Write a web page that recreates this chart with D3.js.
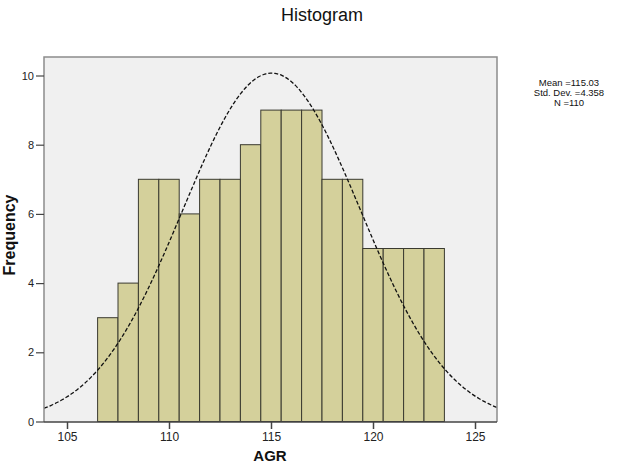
<!DOCTYPE html>
<html>
<head>
<meta charset="UTF-8">
<title>Histogram</title>
<script src="https://d3js.org/d3.v7.min.js"></script>
<style>
    body { margin: 0; background: #fff; }
    svg { display: block; font-family: "Liberation Sans", Arial, sans-serif; }
</style>
</head>
<body>
<svg id="chart" width="617" height="466"></svg>
<script>
    // bins of width 1, centred on integer values of AGR
    const binStarts = [106.5, 107.5, 108.5, 109.5, 110.5, 111.5, 112.5, 113.5, 114.5,
                       115.5, 116.5, 117.5, 118.5, 119.5, 120.5, 121.5, 122.5];
    const counts = [3, 4, 7, 7, 6, 7, 7, 8, 9, 9, 9, 7, 7, 5, 5, 5, 5];
    const xTicks = [105, 110, 115, 120, 125];
    const yTicks = [0, 2, 4, 6, 8, 10];
    const stats = ["Mean =115.03", "Std. Dev. =4.358", "N =110"];
    const mean = 115.03, sd = 4.358, n = 110, binWidth = 1;

    const svg = d3.select("#chart");
    const plot = { left: 44, right: 497, top: 57, bottom: 422 };

    const x = d3.scaleLinear().domain([105, 125]).range([67, 475]);
    const y = d3.scaleLinear().domain([0, 10]).range([421.5, 75.5]);

    // plot background
    svg.append("rect")
        .attr("x", plot.left).attr("y", plot.top)
        .attr("width", plot.right - plot.left).attr("height", plot.bottom - plot.top)
        .attr("fill", "#f0f0f0");

    // bars
    svg.selectAll(".bar")
        .data(binStarts.map((s, i) => ({ s: s, c: counts[i] })))
        .enter().append("rect")
        .attr("class", "bar")
        .attr("x", d => x(d.s))
        .attr("y", d => y(d.c))
        .attr("width", d => x(d.s + binWidth) - x(d.s))
        .attr("height", d => y(0) - y(d.c))
        .attr("fill", "#d4d09b")
        .attr("stroke", "#3a3a30")
        .attr("stroke-width", 1);

    // normal curve
    const x0 = x.invert(plot.left), x1 = x.invert(plot.right);
    const curve = d3.range(0, 201).map(i => {
        const v = x0 + (x1 - x0) * i / 200;
        const z = (v - mean) / sd;
        return [v, n * binWidth / (sd * Math.sqrt(2 * Math.PI)) * Math.exp(-z * z / 2)];
    });
    svg.append("path")
        .datum(curve)
        .attr("d", d3.line().x(d => x(d[0])).y(d => y(d[1])).curve(d3.curveBasis))
        .attr("fill", "none")
        .attr("stroke", "#111")
        .attr("stroke-width", 1.3)
        .attr("stroke-dasharray", "4,2");

    // frame
    svg.append("path")
        .attr("d", `M${plot.left},${plot.bottom}V${plot.top}H${plot.right}V${plot.bottom}`)
        .attr("fill", "none")
        .attr("stroke", "#8c8c8c")
        .attr("stroke-width", 1.5);

    // axes
    const xAxis = svg.append("g")
        .attr("transform", `translate(0,${plot.bottom})`)
        .call(d3.axisBottom(x).tickValues(xTicks).tickSize(7).tickPadding(3).tickSizeOuter(0));
    xAxis.select(".domain").attr("d", `M${plot.left},0H${plot.right}`).attr("stroke", "#444").attr("stroke-width", 1.5);
    xAxis.selectAll(".tick line").attr("stroke", "#444").attr("stroke-width", 1.5);
    xAxis.selectAll("text").attr("font-size", 12).attr("fill", "#222").attr("font-family", "Liberation Sans, Arial, sans-serif");

    const yAxis = svg.append("g")
        .attr("transform", `translate(${plot.left},0)`)
        .call(d3.axisLeft(y).tickValues(yTicks).tickSize(8).tickPadding(2).tickSizeOuter(0));
    yAxis.select(".domain").remove();
    yAxis.selectAll(".tick line").attr("stroke", "#444").attr("stroke-width", 1.2);
    yAxis.selectAll("text").attr("font-size", 11).attr("fill", "#222").attr("font-family", "Liberation Sans, Arial, sans-serif");

    // titles
    svg.append("text")
        .attr("x", 322).attr("y", 21)
        .attr("text-anchor", "middle")
        .attr("font-size", 18)
        .attr("fill", "#111")
        .text("Histogram");

    svg.append("text")
        .attr("x", 270).attr("y", 461)
        .attr("text-anchor", "middle")
        .attr("font-size", 15)
        .attr("font-weight", "bold")
        .attr("fill", "#111")
        .text("AGR");

    svg.append("text")
        .attr("transform", "translate(15,235) rotate(-90)")
        .attr("text-anchor", "middle")
        .attr("font-size", 16)
        .attr("font-weight", "bold")
        .attr("fill", "#111")
        .text("Frequency");

    // stats box
    svg.append("g").selectAll("text")
        .data(stats)
        .enter().append("text")
        .attr("x", 569)
        .attr("y", (d, i) => 86 + i * 10)
        .attr("text-anchor", "middle")
        .attr("font-size", 9.5)
        .attr("fill", "#111")
        .text(d => d);
</script>
</body>
</html>
